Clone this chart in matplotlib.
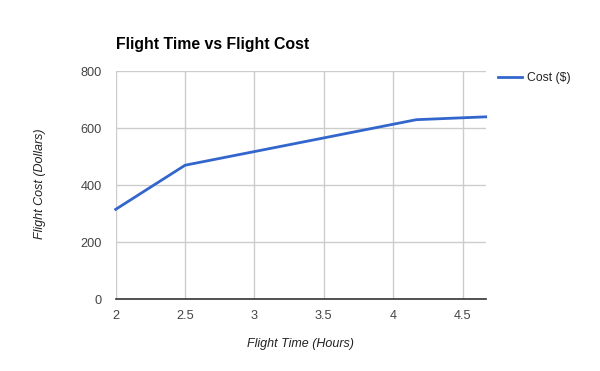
import matplotlib
matplotlib.use("Agg")
import matplotlib.pyplot as plt

flight_time = [2.0, 2.5, 4.1667, 4.6667]
flight_cost = [315, 470, 630, 640]
x_ticks = [2, 2.5, 3, 3.5, 4, 4.5]
x_tick_labels = ["2", "2.5", "3", "3.5", "4", "4.5"]
y_ticks = [0, 200, 400, 600, 800]
series_name = "Cost ($)"

plt.rcParams['font.family'] = ['Liberation Sans', 'DejaVu Sans']
W, H = 600, 371
fig = plt.figure(figsize=(W/100, H/100), dpi=100)
ax = fig.add_axes([115.7/W, 1 - 299/H, (485.7-115.7)/W, (299-71.3)/H])

ax.plot(flight_time, flight_cost, color='#3366cc', linewidth=2, solid_joinstyle='round', clip_on=False, zorder=3)
ax.set_xlim(2, 4.6667)
ax.set_ylim(0, 800)
ax.set_xticks(x_ticks)
ax.set_xticklabels(x_tick_labels)
ax.set_yticks(y_ticks)
ax.grid(True, color='#cccccc', linewidth=1)
ax.set_axisbelow(True)
for s in ['top', 'right', 'left']:
    ax.spines[s].set_visible(False)
ax.spines['bottom'].set_color('#333333')
ax.spines['bottom'].set_linewidth(1.2)
ax.spines['bottom'].set_zorder(4)
ax.tick_params(length=0, labelsize=9.2, labelcolor='#444444')
ax.tick_params(axis='x', pad=8)
ax.tick_params(axis='y', pad=10)

fig.text(116/W, 1 - 45/H, "Flight Time vs Flight Cost", fontsize=11.4, fontweight='bold', color='#000000', va='center', ha='left')
fig.text(300/W, 1 - 344/H, "Flight Time (Hours)", fontsize=9, style='italic', color='#222222', ha='center', va='center')
fig.text(40/W, 1 - 184/H, "Flight Cost (Dollars)", fontsize=9, style='italic', color='#222222', ha='center', va='center', rotation=90)

# legend
fig.lines.append(plt.Line2D([498/W, 522/W], [1 - 77/H, 1 - 77/H], color='#3366cc', linewidth=2, transform=fig.transFigure))
fig.text(527/W, 1 - 77.5/H, series_name, fontsize=8.8, color='#222222', va='center', ha='left')

fig.savefig("out.png", dpi=100)
